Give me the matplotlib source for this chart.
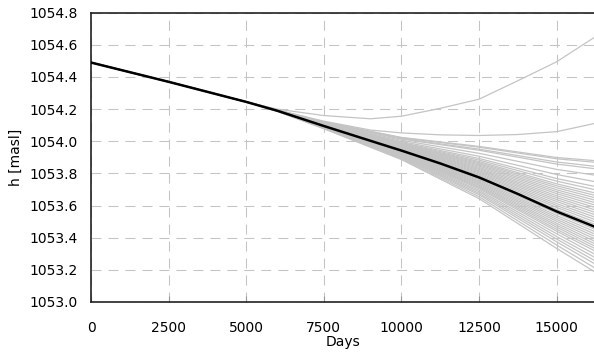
import matplotlib
matplotlib.use("Agg")
import matplotlib.pyplot as plt

# shared start of every run
start_days = [0, 2500, 5000]
start_h = [1054.49, 1054.37, 1054.245]

# black line (reference run)
black_days = [0, 2500, 5000, 6000, 7500, 9000, 10000, 11250, 12500, 13750, 15000, 16200]
black_h = [1054.49, 1054.37, 1054.245, 1054.19, 1054.095, 1054.003, 1053.942,
           1053.862, 1053.775, 1053.672, 1053.563, 1053.47]

# two upper gray outliers
outlier_days = [0, 2500, 5000, 6000, 7500, 9000, 10000, 11250, 12500, 13750, 15000, 16200]
outlier_a = [1054.49, 1054.37, 1054.245, 1054.20, 1054.16, 1054.14, 1054.156,
             1054.205, 1054.262, 1054.377, 1054.495, 1054.645]
outlier_b = [1054.49, 1054.37, 1054.245, 1054.195, 1054.125, 1054.07, 1054.052,
             1054.04, 1054.036, 1054.042, 1054.06, 1054.11]

# gray fan: values at these days, each run continues from start_h
fan_days = [6000, 7500, 10000, 12500, 15000, 16200]
fan_tails = [
    [1054.194, 1054.120, 1054.024, 1053.968, 1053.899, 1053.880],
    [1054.194, 1054.119, 1054.022, 1053.963, 1053.891, 1053.870],
    [1054.194, 1054.118, 1054.017, 1053.951, 1053.871, 1053.845],
    [1054.194, 1054.117, 1054.014, 1053.944, 1053.858, 1053.830],
    [1054.193, 1054.114, 1054.006, 1053.925, 1053.825, 1053.790],
    [1054.193, 1054.112, 1053.998, 1053.907, 1053.793, 1053.750],
    [1054.193, 1054.110, 1053.992, 1053.893, 1053.768, 1053.720],
    [1054.192, 1054.109, 1053.988, 1053.883, 1053.752, 1053.700],
    [1054.192, 1054.108, 1053.984, 1053.874, 1053.735, 1053.680],
    [1054.192, 1054.107, 1053.981, 1053.867, 1053.723, 1053.665],
    [1054.192, 1054.106, 1053.978, 1053.860, 1053.711, 1053.650],
    [1054.192, 1054.105, 1053.975, 1053.853, 1053.698, 1053.635],
    [1054.192, 1054.104, 1053.972, 1053.846, 1053.686, 1053.620],
    [1054.191, 1054.103, 1053.969, 1053.838, 1053.674, 1053.605],
    [1054.191, 1054.102, 1053.966, 1053.831, 1053.661, 1053.590],
    [1054.191, 1054.101, 1053.963, 1053.824, 1053.649, 1053.575],
    [1054.191, 1054.100, 1053.960, 1053.817, 1053.637, 1053.560],
    [1054.191, 1054.100, 1053.957, 1053.810, 1053.625, 1053.545],
    [1054.191, 1054.099, 1053.954, 1053.803, 1053.612, 1053.530],
    [1054.190, 1054.098, 1053.951, 1053.796, 1053.600, 1053.515],
    [1054.190, 1054.097, 1053.948, 1053.789, 1053.588, 1053.500],
    [1054.190, 1054.096, 1053.945, 1053.782, 1053.575, 1053.485],
    [1054.190, 1054.094, 1053.939, 1053.768, 1053.551, 1053.455],
    [1054.190, 1054.093, 1053.936, 1053.761, 1053.538, 1053.440],
    [1054.190, 1054.092, 1053.933, 1053.754, 1053.526, 1053.425],
    [1054.189, 1054.091, 1053.930, 1053.747, 1053.514, 1053.410],
    [1054.189, 1054.091, 1053.927, 1053.740, 1053.502, 1053.395],
    [1054.189, 1054.090, 1053.924, 1053.733, 1053.489, 1053.380],
    [1054.189, 1054.089, 1053.921, 1053.726, 1053.477, 1053.365],
    [1054.189, 1054.088, 1053.918, 1053.719, 1053.465, 1053.350],
    [1054.189, 1054.087, 1053.915, 1053.712, 1053.452, 1053.335],
    [1054.189, 1054.086, 1053.912, 1053.705, 1053.440, 1053.320],
    [1054.188, 1054.085, 1053.908, 1053.695, 1053.424, 1053.300],
    [1054.188, 1054.084, 1053.904, 1053.686, 1053.407, 1053.280],
    [1054.188, 1054.082, 1053.900, 1053.676, 1053.391, 1053.260],
    [1054.188, 1054.081, 1053.896, 1053.667, 1053.374, 1053.240],
    [1054.187, 1054.080, 1053.891, 1053.655, 1053.354, 1053.215],
    [1054.187, 1054.078, 1053.886, 1053.643, 1053.333, 1053.190],
]

x_ticks = [0, 2500, 5000, 7500, 10000, 12500, 15000]
y_ticks = [1053.0, 1053.2, 1053.4, 1053.6, 1053.8, 1054.0, 1054.2, 1054.4, 1054.6, 1054.8]

plt.rcParams['font.family'] = 'DejaVu Sans'
plt.rcParams['font.size'] = 10

fig = plt.figure(figsize=(5.94, 3.59), dpi=100)
ax = fig.add_axes([0.1532, 0.1588, 0.8468, 0.8058])

gray = '#c4c4c4'
ax.plot(outlier_days, outlier_a, color=gray, lw=0.9, zorder=2)
ax.plot(outlier_days, outlier_b, color=gray, lw=0.9, zorder=2)
for tail in fan_tails:
    ax.plot(start_days + fan_days, start_h + tail, color=gray, lw=0.9, zorder=2)
ax.plot(black_days, black_h, color='black', lw=1.8, zorder=3)

ax.set_xlim(0, 16200)
ax.set_ylim(1053.0, 1054.8)
ax.set_xticks(x_ticks)
ax.set_yticks(y_ticks)
ax.set_yticklabels([f'{v:.1f}' for v in y_ticks])
ax.grid(True, color='#c4c4c4', lw=0.75, linestyle=(0, (9.6, 6.7)), zorder=1)
ax.tick_params(axis='x', direction='in', length=4, color='#999999', pad=13.5)
ax.tick_params(axis='y', length=0, pad=9.3)

for s in ['left', 'bottom', 'top']:
    ax.spines[s].set_color('#222222')
    ax.spines[s].set_linewidth(1.2)
ax.spines['right'].set_visible(False)

ax.set_xlabel('Days', labelpad=0)
ax.set_ylabel('h [masl]', labelpad=5)

fig.savefig('out.png', dpi=100)
